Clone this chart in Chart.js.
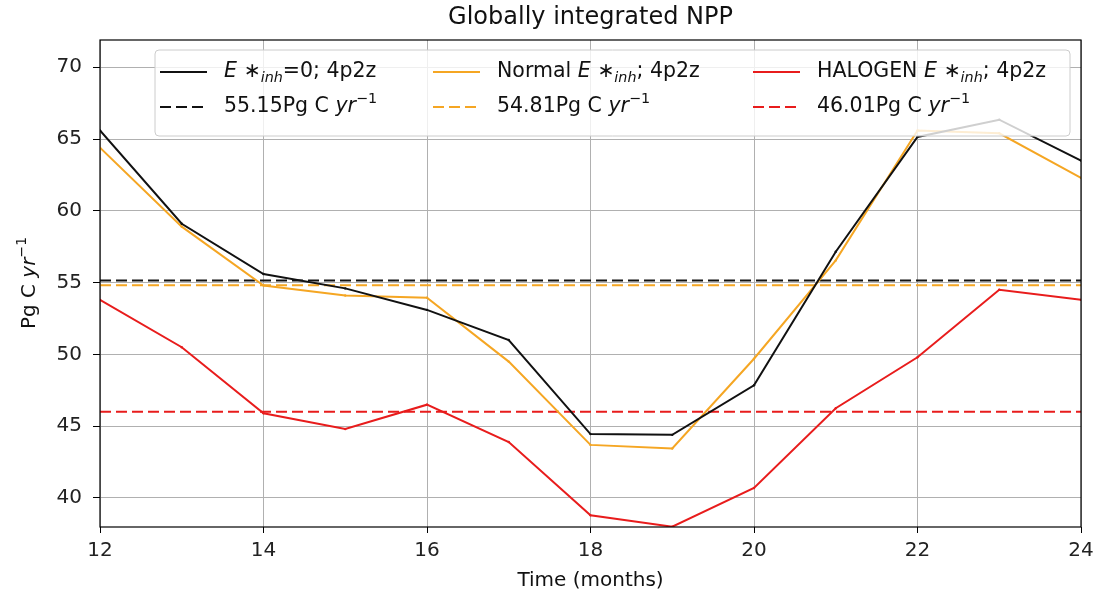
<!DOCTYPE html>
<html>
<head>
<meta charset="utf-8">
<script src="https://cdn.jsdelivr.net/npm/chart.js@4"></script>
<style>
  body { margin: 0; background: #fff; }
  canvas { display: block; }
</style>
</head>
<body>
<canvas id="npp" width="1096" height="594"></canvas>
<script>
// data
const months = [12, 13, 14, 15, 16, 17, 18, 19, 20, 21, 22, 23, 24];
const nppZero = [65.6, 59.1, 55.6, 54.6, 53.1, 51.0, 44.45, 44.4, 47.85, 57.15, 65.15, 66.35, 63.5];
const nppNormal = [64.4, 58.9, 54.8, 54.1, 53.95, 49.5, 43.7, 43.45, 49.7, 56.55, 65.6, 65.4, 62.3];
const nppHalogen = [53.8, 50.5, 45.9, 44.8, 46.5, 43.9, 38.8, 38.0, 40.7, 46.25, 49.8, 54.5, 53.8];
const means = [55.15, 54.81, 46.01];
const xTicks = [12, 14, 16, 18, 20, 22, 24];
const yTicks = [40, 45, 50, 55, 60, 65, 70];

const BLACK = '#111111', ORANGE = '#f5a623', RED = '#e81c1c';
const FONT = '"DejaVu Sans", sans-serif';
const FS = 20;      // tick / label size
const LEG_FS = 20.5;

const pts = arr => months.map((m, i) => ({ x: m, y: arr[i] }));
const flat = v => [{ x: months[0], y: v }, { x: months[months.length - 1], y: v }];

// rich text pieces for the legend (E*_inh, yr^-1)
const eStar = [{ t: 'E', it: true }, { t: ' \u2217', it: true }, { t: 'inh', it: true, sub: true }];
const yr = [{ t: 'yr', it: true }, { t: '\u22121', sup: true }];
const legendRows = [
  [[...eStar, { t: '=0; 4p2z' }], [{ t: 'Normal ' }, ...eStar, { t: '; 4p2z' }], [{ t: 'HALOGEN ' }, ...eStar, { t: '; 4p2z' }]],
  [[{ t: means[0] + 'Pg C ' }, ...yr], [{ t: means[1] + 'Pg C ' }, ...yr], [{ t: means[2] + 'Pg C ' }, ...yr]]
];

function segFont(s, size) {
  const sz = (s.sub || s.sup) ? size * 0.7 : size;
  return (s.it ? 'oblique ' : '') + sz + 'px ' + FONT;
}

function drawRich(ctx, segs, x, y, size) {
  ctx.textBaseline = 'middle';
  ctx.textAlign = 'left';
  for (const s of segs) {
    ctx.font = segFont(s, size);
    const dy = s.sub ? size * 0.3 : s.sup ? -size * 0.4 : 0;
    ctx.fillText(s.t, x, y + dy);
    x += ctx.measureText(s.t).width;
  }
  return x;
}

function richWidth(ctx, segs, size) {
  let w = 0;
  for (const s of segs) {
    ctx.font = segFont(s, size);
    w += ctx.measureText(s.t).width;
  }
  return w;
}

const decor = {
  id: 'decor',
  afterDatasetsDraw(chart) {
    const ctx = chart.ctx, a = chart.chartArea;
    ctx.save();
    // axes frame
    ctx.strokeStyle = '#000';
    ctx.lineWidth = 1.2;
    ctx.strokeRect(a.left, a.top, a.right - a.left, a.bottom - a.top);

    // legend box
    const bx = 155, by = 50, bw = 915, bh = 86;
    ctx.fillStyle = 'rgba(255,255,255,0.8)';
    ctx.strokeStyle = '#cccccc';
    ctx.lineWidth = 1;
    ctx.beginPath();
    ctx.roundRect(bx, by, bw, bh, 4);
    ctx.fill();
    ctx.stroke();

    const colX = [160, 433, 753];
    const rowY = [72, 107];
    const sets = chart.data.datasets;
    for (let r = 0; r < 2; r++) {
      for (let c = 0; c < 3; c++) {
        const ds = sets[r * 3 + c];
        ctx.strokeStyle = ds.borderColor;
        ctx.lineWidth = 2;
        ctx.setLineDash(ds.borderDash || []);
        ctx.beginPath();
        ctx.moveTo(colX[c], rowY[r]);
        ctx.lineTo(colX[c] + 47, rowY[r]);
        ctx.stroke();
        ctx.setLineDash([]);
        ctx.fillStyle = '#111';
        drawRich(ctx, legendRows[r][c], colX[c] + 64, rowY[r], LEG_FS);
      }
    }

    // title and axis titles
    ctx.fillStyle = '#111';
    ctx.textAlign = 'center';
    ctx.textBaseline = 'middle';
    ctx.font = '24px ' + FONT;
    ctx.fillText('Globally integrated NPP', (a.left + a.right) / 2, 18);
    ctx.font = FS + 'px ' + FONT;
    ctx.fillText('Time (months)', (a.left + a.right) / 2, 581);

    ctx.translate(30, 283);
    ctx.rotate(-Math.PI / 2);
    const parts = [{ t: 'Pg C ' }, ...yr];
    drawRich(ctx, parts, -richWidth(ctx, parts, FS) / 2, 0, FS);
    ctx.restore();
  }
};

new Chart(document.getElementById('npp'), {
  type: 'line',
  data: {
    datasets: [
      { label: 'E*inh=0; 4p2z', data: pts(nppZero), borderColor: BLACK },
      { label: 'Normal E*inh; 4p2z', data: pts(nppNormal), borderColor: ORANGE },
      { label: 'HALOGEN E*inh; 4p2z', data: pts(nppHalogen), borderColor: RED },
      { label: means[0] + 'Pg C yr-1', data: flat(means[0]), borderColor: BLACK, borderDash: [11, 5], pointRadius: 0 },
      { label: means[1] + 'Pg C yr-1', data: flat(means[1]), borderColor: ORANGE, borderDash: [11, 5], pointRadius: 0 },
      { label: means[2] + 'Pg C yr-1', data: flat(means[2]), borderColor: RED, borderDash: [11, 5], pointRadius: 0 }
    ]
  },
  options: {
    responsive: false,
    animation: false,
    layout: { padding: { top: 40, right: 15, left: 0, bottom: 0 } },
    elements: {
      line: { borderWidth: 2, tension: 0, fill: false },
      point: { radius: 1.2, hoverRadius: 0, borderWidth: 0 }
    },
    datasets: { line: { pointBackgroundColor: ctx => ctx.dataset.borderColor } },
    plugins: { legend: { display: false }, title: { display: false }, tooltip: { enabled: false } },
    scales: {
      x: {
        type: 'linear', min: 12, max: 24,
        afterBuildTicks: s => { s.ticks = xTicks.map(v => ({ value: v })); },
        afterFit: s => { s.height = 67; s.paddingLeft = 0; s.paddingRight = 0; },
        grid: { color: '#b0b0b0', lineWidth: 1, tickLength: 6, tickColor: '#000' },
        border: { display: false },
        ticks: { font: { family: FONT, size: FS }, color: '#222', padding: 6, maxRotation: 0 }
      },
      y: {
        min: 37.98, max: 71.9,
        afterBuildTicks: s => { s.ticks = yTicks.map(v => ({ value: v })); },
        afterFit: s => { s.width = 100; s.paddingTop = 0; s.paddingBottom = 0; },
        grid: { color: '#b0b0b0', lineWidth: 1, tickLength: 7, tickColor: '#000' },
        border: { display: false },
        ticks: { font: { family: FONT, size: FS }, color: '#222', padding: 11 }
      }
    }
  },
  plugins: [decor]
});
</script>
</body>
</html>
